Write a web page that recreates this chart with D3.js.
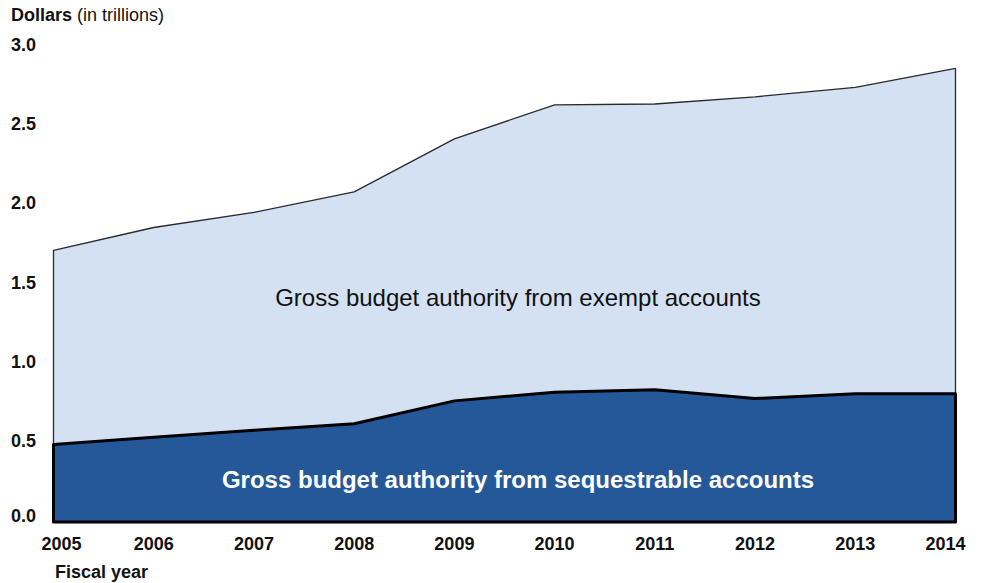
<!DOCTYPE html>
<html>
<head>
<meta charset="utf-8">
<script src="https://cdn.jsdelivr.net/npm/d3@7"></script>
<style>
  body { margin: 0; background: #fff; }
  text { font-family: Arial, "Liberation Sans", sans-serif; }
</style>
</head>
<body>
<div id="chart"></div>
<script>
// Fiscal years on the x axis
const years = [2005, 2006, 2007, 2008, 2009, 2010, 2011, 2012, 2013, 2014];
// Gross budget authority, trillions of dollars
const sequestrable = [0.49, 0.535, 0.58, 0.62, 0.765, 0.82, 0.835, 0.78, 0.81, 0.81];
const exempt = [1.225, 1.325, 1.375, 1.465, 1.655, 1.815, 1.805, 1.905, 1.935, 2.055];
const yTicks = [0.0, 0.5, 1.0, 1.5, 2.0, 2.5, 3.0];

const width = 983, height = 583;

const svg = d3.select("#chart")
              .append("svg")
              .attr("width", width)
              .attr("height", height);

const x = d3.scaleLinear().domain([2005, 2014]).range([53.5, 955.5]);
const y = d3.scaleLinear().domain([0, 3]).range([522, 47]);

// Build rows for the stack
const rows = years.map((yr, i) => ({ year: yr, sequestrable: sequestrable[i], exempt: exempt[i] }));
const series = d3.stack().keys(["sequestrable", "exempt"])(rows);

const area = d3.area()
               .x(d => x(d.data.year))
               .y0(d => y(d[0]))
               .y1(d => y(d[1]));

// Exempt accounts (light, on top of the stack)
svg.append("path")
   .datum(series[1])
   .attr("d", area)
   .attr("fill", "#d4e1f2")
   .attr("stroke", "#2a2a2a")
   .attr("stroke-width", 1.3)
   .attr("stroke-linejoin", "round");

// Sequestrable accounts (dark)
svg.append("path")
   .datum(series[0])
   .attr("d", area)
   .attr("fill", "#245899")
   .attr("stroke", "#000")
   .attr("stroke-width", 3)
   .attr("stroke-linejoin", "round");

// Y axis labels
svg.selectAll("text.ytick")
   .data(yTicks)
   .join("text")
   .attr("class", "ytick")
   .attr("x", 11)
   .attr("y", d => y(d) + (d === 0 ? 0 : 4))
   .attr("font-size", 18)
   .attr("font-weight", "bold")
   .attr("fill", "#111")
   .text(d => d.toFixed(1));

// X axis labels, the end ones nudged inward
svg.selectAll("text.xtick")
   .data(years)
   .join("text")
   .attr("class", "xtick")
   .attr("x", d => x(d) + (d === 2005 ? 8 : d === 2014 ? -10 : 0))
   .attr("y", 550)
   .attr("text-anchor", "middle")
   .attr("font-size", 18)
   .attr("font-weight", "bold")
   .attr("fill", "#111")
   .text(d => d);

svg.append("text")
   .attr("x", 55)
   .attr("y", 578)
   .attr("font-size", 18)
   .attr("font-weight", "bold")
   .attr("fill", "#111")
   .text("Fiscal year");

const title = svg.append("text")
   .attr("x", 11)
   .attr("y", 21)
   .attr("font-size", 18)
   .attr("fill", "#111");
title.append("tspan").attr("font-weight", "bold").text("Dollars");
title.append("tspan").text(" (in trillions)");

// Area labels
svg.append("text")
   .attr("x", 518)
   .attr("y", 306)
   .attr("text-anchor", "middle")
   .attr("font-size", 24)
   .attr("fill", "#111")
   .text("Gross budget authority from exempt accounts");

svg.append("text")
   .attr("x", 518)
   .attr("y", 488)
   .attr("text-anchor", "middle")
   .attr("font-size", 24)
   .attr("font-weight", "bold")
   .attr("fill", "#fff")
   .text("Gross budget authority from sequestrable accounts");
</script>
</body>
</html>
